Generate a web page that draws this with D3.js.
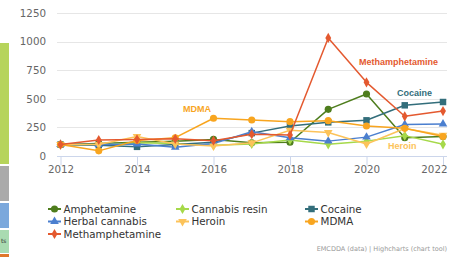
<!DOCTYPE html>
<html>
<head>
<meta charset="utf-8">
<script src="https://cdn.jsdelivr.net/npm/d3@7"></script>
<style>
  html, body { margin: 0; padding: 0; background: #fff; }
  svg { display: block; }
</style>
</head>
<body>
<svg width="455" height="257"></svg>
<script>
// index values, 2012 = 100
const years = [2012, 2013, 2014, 2015, 2016, 2017, 2018, 2019, 2020, 2021, 2022];
const amphetamine     = [100, 110, 120, 130, 145, 115, 120, 408, 542, 160, 170];
const cannabisResin   = [100,  95, 115, 110,  95, 105, 140, 102, 130, 178, 102];
const cocaine         = [100,  95,  80, 100, 120, 200, 262, 294, 312, 443, 472];
const herbalCannabis  = [100, 100, 105,  76, 110, 212, 160, 130, 165, 275, 280];
const heroin          = [100, 100, 170, 105,  87, 115, 225, 205, 105, 240, 182];
const mdma            = [100,  45, 135, 160, 330, 315, 300, 309, 262, 242, 170];
const methamphetamine = [100, 140, 145, 150, 134, 190, 183, 1032, 644, 347, 393];

const seriesNames = ["Amphetamine", "Cannabis resin", "Cocaine", "Herbal cannabis", "Heroin", "MDMA", "Methamphetamine"];
const yTicks = [0, 250, 500, 750, 1000, 1250];
const xTicks = [2012, 2014, 2016, 2018, 2020, 2022];

const series = [
  {name: seriesNames[0], values: amphetamine,     color: "#4e7d1d", symbol: d3.symbolCircle,   size: 40},
  {name: seriesNames[1], values: cannabisResin,   color: "#a6d94a", symbol: d3.symbolDiamond,  size: 30},
  {name: seriesNames[2], values: cocaine,         color: "#336e7b", symbol: d3.symbolSquare,   size: 42},
  {name: seriesNames[3], values: herbalCannabis,  color: "#4b7fcf", symbol: d3.symbolTriangle, size: 32},
  {name: seriesNames[4], values: heroin,          color: "#fcc35a", symbol: d3.symbolTriangle, size: 32, flip: true},
  {name: seriesNames[5], values: mdma,            color: "#f8a51f", symbol: d3.symbolCircle,   size: 40},
  {name: seriesNames[6], values: methamphetamine, color: "#e4592f", symbol: d3.symbolDiamond,  size: 30}
];

const svg = d3.select("svg");

// bit of the neighbouring page panel on the left edge
const strip = [
  {y0: 43, y1: 164, c: "#b6d45b"},
  {y0: 166, y1: 201, c: "#aaaaaa"},
  {y0: 203, y1: 228, c: "#7ba8dc"},
  {y0: 230, y1: 253, c: "#a9dbb1"},
  {y0: 254, y1: 257, c: "#e0772a"}
];
svg.append("g").selectAll("rect").data(strip).join("rect")
  .attr("x", 0).attr("width", 9)
  .attr("y", d => d.y0).attr("height", d => d.y1 - d.y0)
  .attr("fill", d => d.c);
svg.append("text").attr("x", 1).attr("y", 243)
  .style("font", "6px 'DejaVu Sans'").style("fill", "#333").text("ts");

const x = d3.scaleLinear().domain([2012, 2022]).range([60.5, 443]);
const y = d3.scaleLinear().domain([0, 1250]).range([156, 13]);

// grid
svg.append("g").selectAll("line").data(yTicks.filter(d => d > 0)).join("line")
  .attr("x1", 57).attr("x2", 447)
  .attr("y1", d => Math.round(y(d)) + 0.5).attr("y2", d => Math.round(y(d)) + 0.5)
  .attr("stroke", "#e6e6e6");

// y axis labels
const yAxis = svg.append("g")
  .attr("transform", "translate(46,0)")
  .call(d3.axisLeft(y).tickValues(yTicks).tickFormat(d3.format("d")).tickSize(0).tickPadding(0));
yAxis.select(".domain").remove();
yAxis.selectAll("text")
  .style("font", "10.3px 'DejaVu Sans'").style("fill", "#666");

// x axis
const xAxis = svg.append("g")
  .attr("transform", "translate(0,156.5)")
  .call(d3.axisBottom(x).tickValues(xTicks).tickFormat(d3.format("d")).tickSize(9));
xAxis.select(".domain").attr("d", "M57,0H447").attr("stroke", "#ccd6eb");
xAxis.selectAll(".tick line").attr("stroke", "#ccd6eb");
xAxis.selectAll("text")
  .attr("y", 16.5).attr("dy", 0)
  .style("font", "10.3px 'DejaVu Sans'").style("fill", "#666");
// last label pushed inside the chart like Highcharts does
xAxis.selectAll(".tick").filter(d => d === 2022).select("text")
  .attr("text-anchor", "end").attr("x", 447 - x(2022));

// lines
const line = d3.line().x((d, i) => x(years[i])).y(d => y(d));
const g = svg.append("g");
series.forEach(s => {
  g.append("path")
    .attr("d", line(s.values))
    .attr("fill", "none")
    .attr("stroke", s.color)
    .attr("stroke-width", 1.5)
    .attr("stroke-linejoin", "round");
  g.append("g").selectAll("path").data(s.values).join("path")
    .attr("d", d3.symbol().type(s.symbol).size(s.size))
    .attr("transform", (d, i) => `translate(${x(years[i])},${y(d)})` + (s.flip ? " rotate(180)" : ""))
    .attr("fill", s.color);
});

// series annotations
const notes = [
  {text: "MDMA", x: 183, y: 112, color: "#f8a51f"},
  {text: "Methamphetamine", x: 359, y: 64.5, color: "#e4592f"},
  {text: "Cocaine", x: 397, y: 96, color: "#336e7b"},
  {text: "Heroin", x: 388, y: 149, color: "#fcc35a"}
];
svg.append("g").selectAll("text").data(notes).join("text")
  .attr("x", d => d.x).attr("y", d => d.y)
  .style("font", "bold 9px 'Liberation Sans'")
  .style("fill", d => d.color)
  .text(d => d.text);

// legend, three columns
const colX = [48, 176, 305];
const rowY = [209, 221.5, 234];
const legend = svg.append("g").selectAll("g").data(series).join("g")
  .attr("transform", (d, i) => `translate(${colX[i % 3]},${rowY[Math.floor(i / 3)]})`);
legend.append("line")
  .attr("x1", 0).attr("x2", 13)
  .attr("stroke", d => d.color).attr("stroke-width", 2);
legend.append("path")
  .attr("d", d => d3.symbol().type(d.symbol).size(d.size)())
  .attr("transform", d => "translate(6.5,0)" + (d.flip ? " rotate(180)" : ""))
  .attr("fill", d => d.color);
legend.append("text")
  .attr("x", 15.5).attr("y", 3.8)
  .style("font", "10.3px 'DejaVu Sans'").style("fill", "#333")
  .text(d => d.name);

// credits
svg.append("text")
  .attr("x", 447).attr("y", 250.5)
  .attr("text-anchor", "end")
  .style("font", "6.5px 'DejaVu Sans'").style("fill", "#999")
  .text("EMCDDA (data) | Highcharts (chart tool)");
</script>
</body>
</html>
